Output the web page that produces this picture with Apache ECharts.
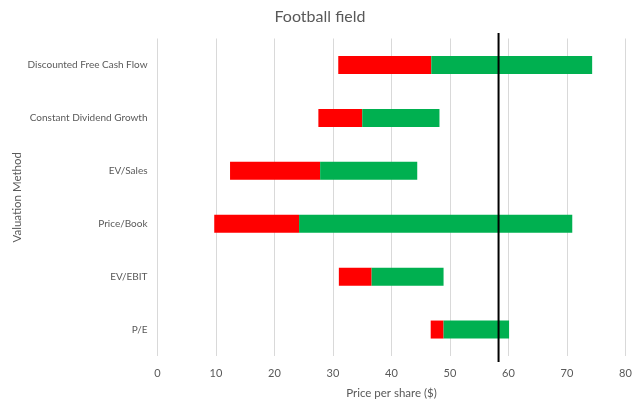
<!DOCTYPE html>
<html><head><meta charset="utf-8">
<script src="https://cdn.jsdelivr.net/npm/echarts@6/dist/echarts.min.js"></script>
<style>html,body{margin:0;padding:0;background:#fff}#c{width:640px;height:405px}</style>
</head><body><div id="c"></div>
<script>
var categories = ['Discounted Free Cash Flow','Constant Dividend Growth','EV/Sales','Price/Book','EV/EBIT','P/E'];
var lowValues  = [30.9, 27.5, 12.4, 9.7, 31.0, 46.7];
var midValues  = [46.8, 35.0, 27.8, 24.2, 36.6, 48.9];
var highValues = [74.3, 48.2, 44.4, 70.9, 48.9, 60.1];
var currentPrice = 58.3;
var xTicks = [0,10,20,30,40,50,60,70,80];

var redPart = lowValues.map(function(v,i){return +(midValues[i]-v).toFixed(2);});
var greenPart = midValues.map(function(v,i){return +(highValues[i]-v).toFixed(2);});
var font = 'Lato';
var txt = '#595959';
var chart = echarts.init(document.getElementById('c'));
chart.setOption({
  animation:false,
  textStyle:{fontFamily:font},
  title:{text:'Football field',left:'center',top:4,textStyle:{fontFamily:font,fontSize:16,fontWeight:'normal',color:txt}},
  grid:[{left:157.5,right:14.5,top:38.5,bottom:49,outerBoundsMode:'none',containLabel:false},
        {left:157.5,right:14.5,top:33,bottom:43,outerBoundsMode:'none',containLabel:false}],
  xAxis:[{type:'value',gridIndex:0,min:xTicks[0],max:xTicks[xTicks.length-1],interval:10,
    axisLine:{show:false},axisTick:{show:false},
    axisLabel:{color:txt,fontSize:11,margin:12,fontFamily:font},
    splitLine:{show:true,lineStyle:{color:'#d9d9d9',width:1}},
    name:'Price per share ($)',nameLocation:'middle',nameGap:31,nameMoveOverlap:false,nameTextStyle:{color:txt,fontSize:11.5,fontFamily:font}},
   {type:'value',gridIndex:1,min:0,max:80,show:false}],
  yAxis:[{type:'category',gridIndex:0,data:categories,inverse:true,
    axisLine:{show:false},axisTick:{show:false},
    axisLabel:{color:txt,fontSize:10,margin:10,fontFamily:font},
    name:'Valuation Method',nameLocation:'middle',nameGap:134,nameRotate:90,nameMoveOverlap:false,nameTextStyle:{color:txt,fontSize:11.5,fontFamily:font}},
   {type:'value',gridIndex:1,min:0,max:1,show:false}],
  series:[
    {type:'bar',stack:'s',data:lowValues,barWidth:18,itemStyle:{color:'transparent'},silent:true},
    {type:'bar',stack:'s',data:redPart,barWidth:18,itemStyle:{color:'#FF0000'}},
    {type:'bar',stack:'s',data:greenPart,barWidth:18,itemStyle:{color:'#00B050'}},
    {type:'line',xAxisIndex:1,yAxisIndex:1,data:[[currentPrice,0],[currentPrice,1]],symbol:'none',lineStyle:{color:'#000',width:2},z:10}
  ]
});
</script></body></html>
